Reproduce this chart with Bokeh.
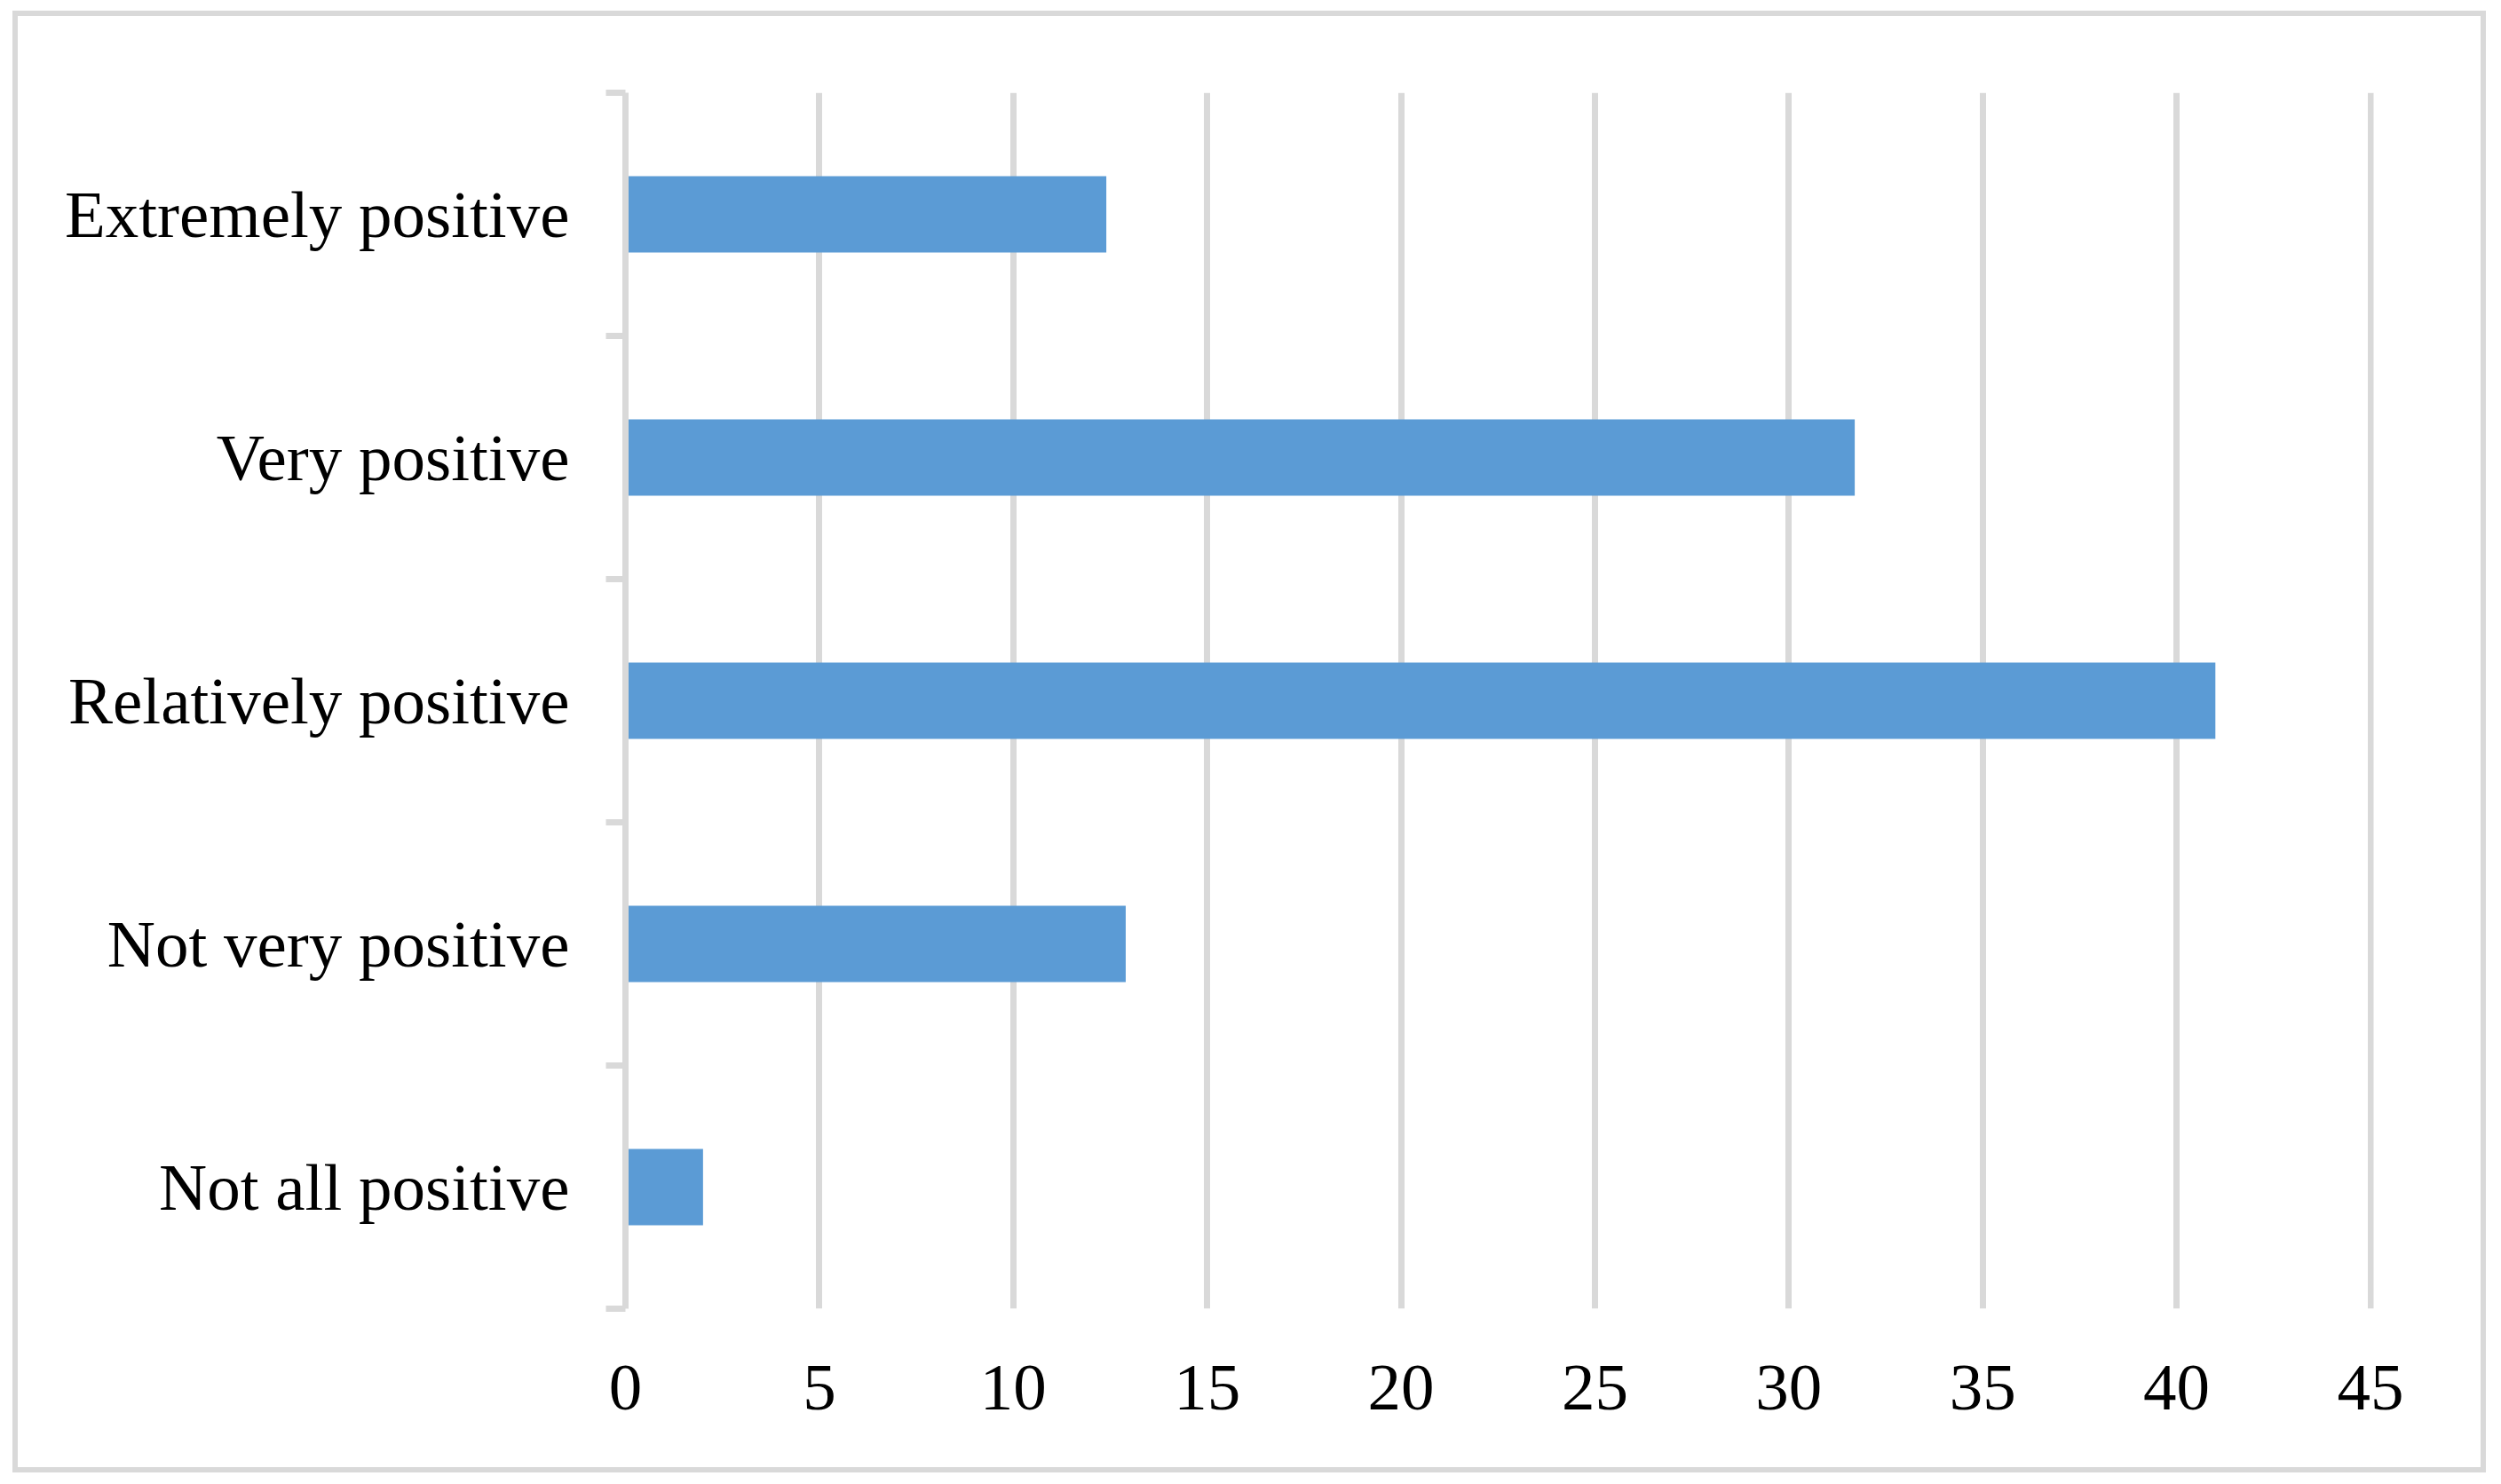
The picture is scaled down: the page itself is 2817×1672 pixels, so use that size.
from bokeh.plotting import figure
from bokeh.models import ColumnDataSource, FixedTicker, Range1d
from bokeh.embed import file_html
from bokeh.resources import INLINE

# Data (bottom to top)
categories = ["Not all positive", "Not very positive", "Relatively positive",
              "Very positive", "Extremely positive"]
values = [2.0, 12.9, 41.0, 31.7, 12.4]
x_ticks = [0, 5, 10, 15, 20, 25, 30, 35, 40, 45]

positions = [i + 0.5 for i in range(len(categories))]
boundaries = [i for i in range(len(categories) + 1)]

source = ColumnDataSource(dict(y=positions, right=values, cat=categories))

W, H = 2806, 1667
p = figure(width=W, height=H,
           x_range=Range1d(0, 45.08), y_range=Range1d(0, len(categories)),
           output_backend="svg", toolbar_location=None,
           min_border_left=700, min_border_right=137,
           min_border_top=102, min_border_bottom=195)

# outer chart border: inset box-shadow band on the figure element,
# visible through the transparent canvas border area
p.styles = {"margin-left": "4px", "margin-top": "2px",
            "background-color": "white",
            "box-shadow": "inset 0 0 0 10px white, inset 0 0 0 16px #D9D9D9"}

p.hbar(y="y", right="right", left=0, height=0.314, source=source,
       fill_color="#5B9BD5", line_color=None)

p.background_fill_color = "white"
p.border_fill_color = None
p.outline_line_color = None

# grid
p.ygrid.grid_line_color = None
p.xgrid.ticker = FixedTicker(ticks=x_ticks)
p.xgrid.grid_line_color = "#D9D9D9"
p.xgrid.grid_line_width = 7

# x axis
xa = p.xaxis[0]
xa.ticker = FixedTicker(ticks=x_ticks)
xa.axis_line_color = None
xa.major_tick_line_color = None
xa.minor_tick_line_color = None
xa.major_label_text_font = "Liberation Serif"
xa.major_label_text_font_size = "75px"
xa.major_label_text_color = "black"
xa.major_label_standoff = 58

# y axis
ya = p.yaxis[0]
ya.ticker = FixedTicker(ticks=positions, minor_ticks=boundaries)
ya.major_label_overrides = {pos: cat for pos, cat in zip(positions, categories)}
ya.axis_line_color = "#D9D9D9"
ya.axis_line_width = 7
ya.major_tick_line_color = None
ya.major_tick_out = 0
ya.major_tick_in = 0
ya.minor_tick_line_color = "#D9D9D9"
ya.minor_tick_line_width = 7
ya.minor_tick_out = 22
ya.minor_tick_in = 0
ya.major_label_text_font = "Liberation Serif"
ya.major_label_text_font_size = "75px"
ya.major_label_text_color = "black"
ya.major_label_standoff = 41

open("out.html", "w").write(file_html(p, INLINE))
